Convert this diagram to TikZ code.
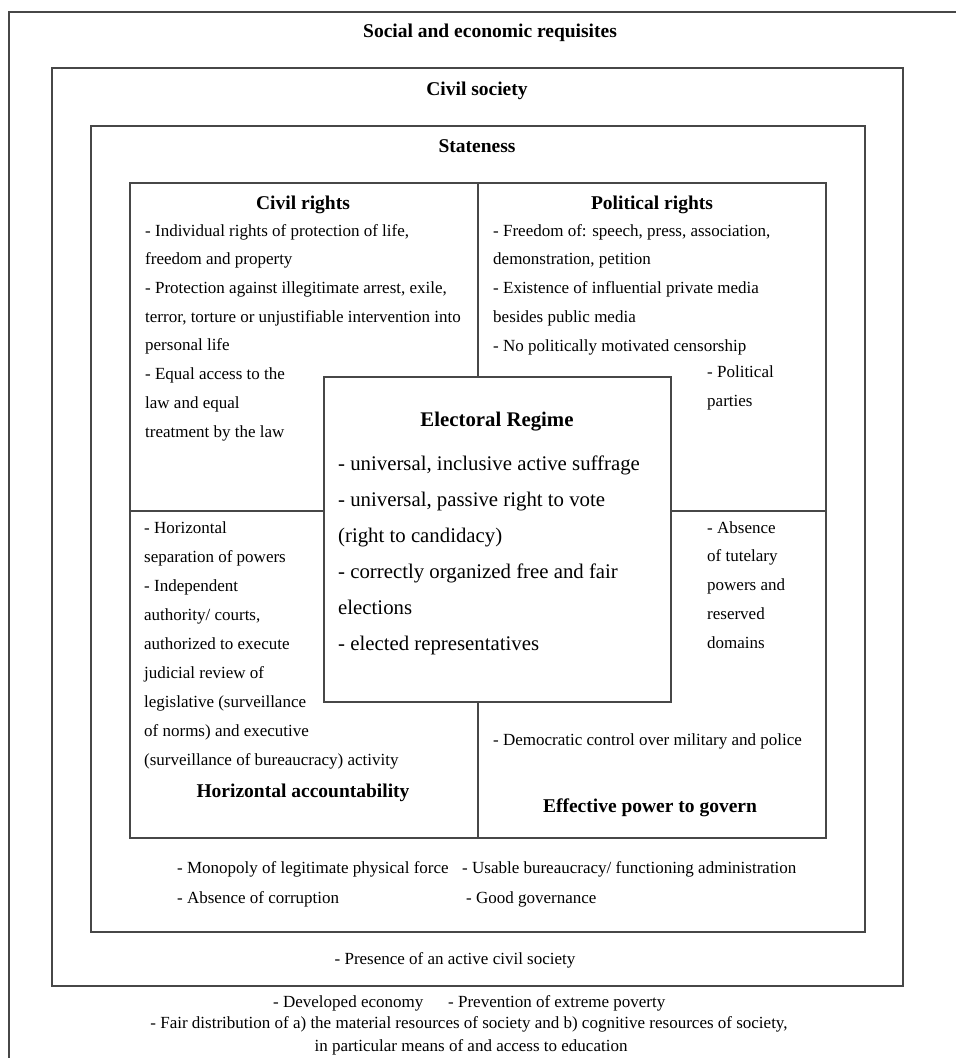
\documentclass[tikz,border=0pt]{standalone}
\usepackage{fontspec}
\setmainfont{Liberation Serif}
\begin{document}
\begin{tikzpicture}[x=1pt,y=-1pt,
  frame/.style={draw=black!72, line width=1.4pt},
  body/.style={font=\fontsize{17}{28.7}\selectfont, inner sep=0pt, align=left, anchor=base west},
  bodyc/.style={font=\fontsize{17}{22}\selectfont, inner sep=0pt, anchor=base},
  head/.style={font=\fontsize{19.5}{23}\selectfont\bfseries, inner sep=0pt, anchor=base},
  elec/.style={font=\fontsize{20.8}{36}\selectfont, inner sep=0pt, align=left, anchor=base west}]
\useasboundingbox (0,0) rectangle (956,1058);
\clip (0,0) rectangle (956,1058);
% frames
\draw[frame] (9,12) rectangle (972,1100);
\draw[frame] (52,68) rectangle (903,986);
\draw[frame] (91,126) rectangle (865,932);
\draw[frame] (130,183) rectangle (826,838);
\draw[frame] (478,183) -- (478,838);
\draw[frame] (130,511) -- (826,511);
\draw[frame, fill=white] (324,377) rectangle (671,702);
% titles
\node[head] (social) at (490,37) {Social and economic requisites};
\node[head] (civsoc) at (477,95) {Civil society};
\node[head] (state) at (477,152) {Stateness};
\node[head] (civr) at (303,209) {Civil rights};
\node[head] (polr) at (652,209) {Political rights};
\node[head] (horacc) at (303,797) {Horizontal accountability};
\node[head] (effpow) at (650,812) {Effective power to govern};
\node[head, font=\fontsize{20.8}{24}\selectfont\bfseries] (elreg) at (497,426) {Electoral Regime};
% civil rights (anchor = baseline of last line)
\node[body] (civrtxt) at (145,437) {- Individual rights of protection of life,\\freedom and property\\- Protection against illegitimate arrest, exile,\\terror, torture or unjustifiable intervention into\\personal life\\- Equal access to the\\law and equal\\treatment by the law};
% political rights
\node[body] (polrtxt) at (493,351) {- Freedom of: speech, press, association,\\demonstration, petition\\- Existence of influential private media\\besides public media\\- No politically motivated censorship};
\node[body] (parties) at (707,406) {- Political\\parties};
% horizontal accountability
\node[body, font=\fontsize{17}{29}\selectfont] (hortxt) at (144,765) {- Horizontal\\separation of powers\\- Independent\\authority/ courts,\\authorized to execute\\judicial review of\\legislative (surveillance\\of norms) and executive\\(surveillance of bureaucracy) activity};
% effective power
\node[body] (abstxt) at (707,648) {- Absence\\of tutelary\\powers and\\reserved\\domains};
\node[body] (demctl) at (493,745) {- Democratic control over military and police};
% electoral regime
\node[elec] (eltxt) at (338,650) {- universal, inclusive active suffrage\\- universal, passive right to vote\\(right to candidacy)\\- correctly organized free and fair\\elections\\- elected representatives};
% stateness items
\node[body] (mono) at (177,873) {- Monopoly of legitimate physical force};
\node[body] (bureau) at (462,873) {- Usable bureaucracy/ functioning administration};
\node[body] (corrupt) at (177,903) {- Absence of corruption};
\node[body] (goodgov) at (466,903) {- Good governance};
% civil society item
\node[bodyc] (active) at (455,964) {- Presence of an active civil society};
% socio-economic items
\node[body] (econ) at (273,1007) {- Developed economy};
\node[body] (poverty) at (448,1007) {- Prevention of extreme poverty};
\node[bodyc] (fair) at (469,1028) {- Fair distribution of a) the material resources of society and b) cognitive resources of society,};
\node[bodyc] (educ) at (471,1051) {in particular means of and access to education};
\end{tikzpicture}
\end{document}
